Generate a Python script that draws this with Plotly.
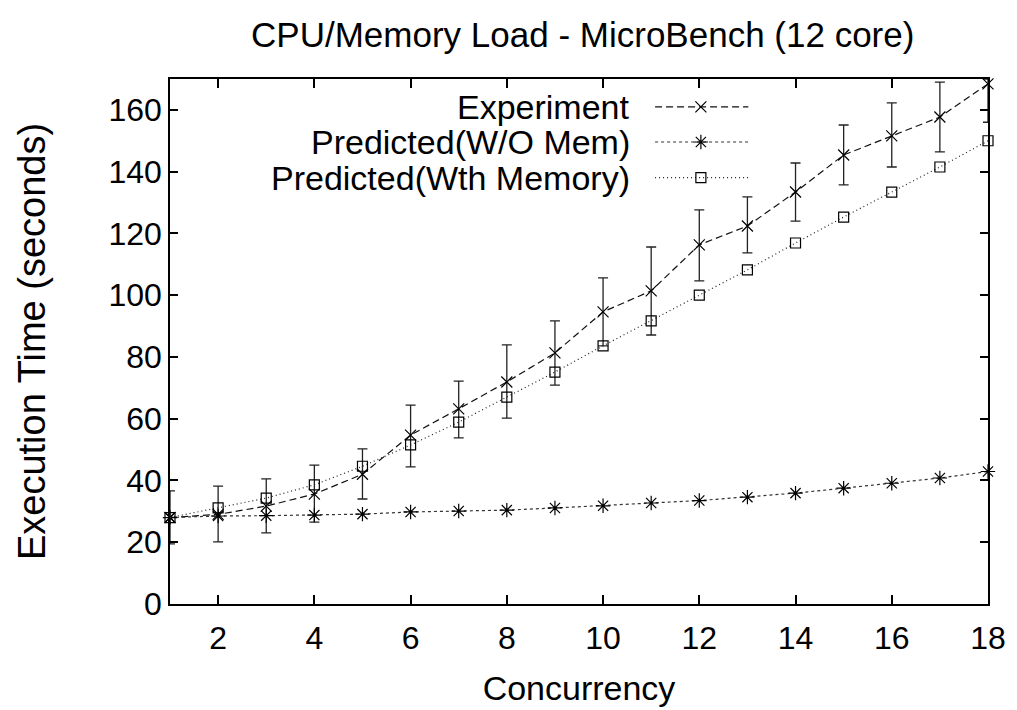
import plotly.graph_objects as go

concurrency = list(range(1, 19))
experiment = [28, 29, 31.7, 35.6, 42, 54.7, 63.2, 71.9, 81.3, 94.6, 101.4, 116.3, 122.4, 133.4, 145.4, 151.6, 157.7, 168.4]
exp_hi = [36.6, 38.2, 40.5, 45, 50.2, 64.4, 72.2, 83.9, 91.7, 105.6, 115.6, 127.6, 131.8, 142.8, 155.1, 162.3, 169, 170]
exp_lo = [19.5, 20.1, 23, 26.5, 34, 44.4, 53.8, 60.2, 70.9, 83.6, 87.1, 104.6, 113.7, 124, 135.7, 141.5, 146.4, 156]
pred_wo_mem = [28, 28.5, 28.6, 28.8, 29.1, 29.8, 30.1, 30.4, 31.1, 31.8, 32.7, 33.5, 34.6, 35.9, 37.5, 39.1, 40.8, 42.9]
pred_wth_mem = [28, 31.1, 34.3, 38.6, 44.6, 51.5, 58.9, 67, 75.1, 83.6, 91.7, 100, 108.2, 116.9, 125.3, 133.4, 141.5, 150]
series_names = ["Experiment", "Predicted(W/O Mem)", "Predicted(Wth Memory)"]
x_ticks = [2, 4, 6, 8, 10, 12, 14, 16, 18]
y_ticks = [0, 20, 40, 60, 80, 100, 120, 140, 160]

FONT = "Liberation Sans, Arial, sans-serif"
INK = "#000000"

styles = [
    dict(dash="7px,4px", symbol="x-thin", size=11, color="#111111"),
    dict(dash="3px,3px", symbol="asterisk", size=12, color="#333333"),
    dict(dash="1px,3px", symbol="square-open", size=10, color="#222222"),
]

fig = go.Figure()

err_plus = [h - v for h, v in zip(exp_hi, experiment)]
err_minus = [v - l for l, v in zip(exp_lo, experiment)]

values = [experiment, pred_wo_mem, pred_wth_mem]
for i, (name, vals, st) in enumerate(zip(series_names, values, styles)):
    kw = {}
    if i == 0:
        kw["error_y"] = dict(type="data", array=err_plus, arrayminus=err_minus,
                             symmetric=False, width=5, thickness=1.3, color="#222222")
    fig.add_trace(go.Scatter(
        x=concurrency, y=vals, name=name, mode="lines+markers",
        line=dict(color=st["color"], width=1.2, dash=st["dash"]),
        marker=dict(symbol=st["symbol"], size=st["size"], color=INK,
                    line=dict(color=INK, width=1.2)),
        cliponaxis=False, showlegend=False, **kw))

# custom legend (text on the left, sample on the right, gnuplot style)
leg_rows = [0.947, 0.880, 0.812]
for name, st, ry in zip(series_names, styles, leg_rows):
    fig.add_trace(go.Scatter(
        x=[0.593, 0.649, 0.707], y=[ry, ry, ry], xaxis="x2", yaxis="y2",
        mode="lines", line=dict(color=st["color"], width=1.2, dash=st["dash"]),
        showlegend=False, hoverinfo="skip"))
    fig.add_trace(go.Scatter(
        x=[0.649], y=[ry], xaxis="x2", yaxis="y2", mode="markers",
        marker=dict(symbol=st["symbol"], size=st["size"], color=INK,
                    line=dict(color=INK, width=1.2)),
        showlegend=False, hoverinfo="skip", cliponaxis=False))
    fig.add_annotation(text=name, x=0.565, y=ry, xref="paper", yref="paper",
                       xanchor="right", yanchor="middle", showarrow=False,
                       font=dict(family=FONT, size=34, color=INK))

axis_common = dict(showline=True, linecolor=INK, linewidth=1.5, mirror="ticks",
                   ticks="inside", tickwidth=1.5, tickcolor=INK, showgrid=False,
                   zeroline=False, automargin=False,
                   tickfont=dict(family=FONT, size=32, color=INK))

fig.update_layout(
    width=1017, height=710,
    margin=dict(l=170, r=29, t=79, b=106),
    paper_bgcolor="white", plot_bgcolor="white",
    title=dict(text="CPU/Memory Load - MicroBench (12 core)", x=0.573, xanchor="center",
               y=0.951, yanchor="middle", font=dict(family=FONT, size=35, color=INK)),
    xaxis=dict(range=[1, 18], tickvals=x_ticks, ticklen=9, ticklabelstandoff=5,
               title=dict(text="Concurrency", font=dict(family=FONT, size=34, color=INK), standoff=21),
               **axis_common),
    yaxis=dict(range=[0, 170], tickvals=y_ticks, ticklen=8,
               title=dict(text="Execution Time (seconds)", font=dict(family=FONT, size=38, color=INK), standoff=51),
               **axis_common),
    xaxis2=dict(overlaying="x", range=[0, 1], visible=False, fixedrange=True),
    yaxis2=dict(overlaying="y", range=[0, 1], visible=False, fixedrange=True),
    showlegend=False,
)

fig.write_html("out.html")
